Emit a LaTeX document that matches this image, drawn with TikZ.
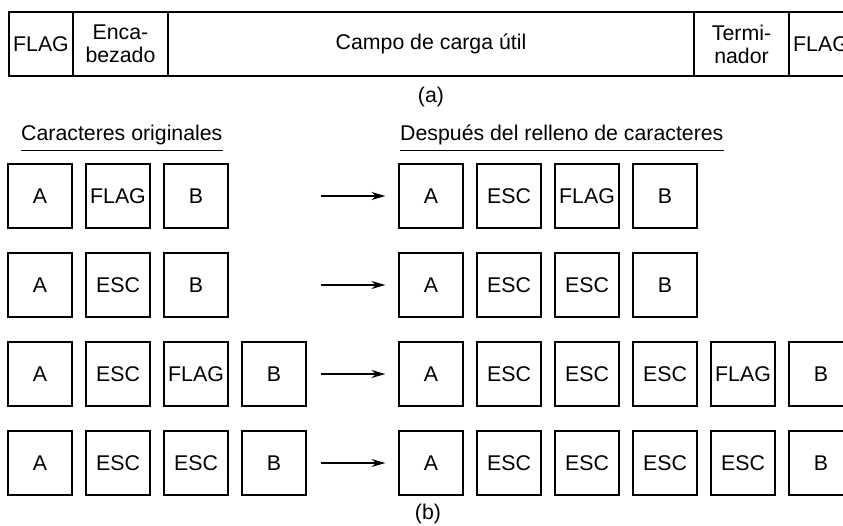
\documentclass[tikz,border=0pt]{standalone}
\usepackage{fontspec}
\setmainfont{Liberation Sans}
\usepackage{tikz}
\usetikzlibrary{arrows.meta,positioning,calc}

\begin{document}
\begin{tikzpicture}[
    x=1pt, y=-1pt,
    font=\fontsize{21.3}{23}\selectfont,
    cell/.style={rectangle, draw, line width=1.1pt, minimum height=64pt, inner sep=0pt, align=center},
    charbox/.style={rectangle, draw, line width=1.1pt, minimum width=64pt, minimum height=64pt, inner sep=0pt},
    heading/.style={anchor=base west, inner sep=0pt},
    rule/.style={line width=0.8pt},
    arrow/.style={-{Stealth[length=14pt, width=8pt]}, line width=1.3pt, shorten >=13pt},
    caption/.style={inner sep=0pt}
]

\clip (0,0) rectangle (843,526);

% Frame (a)
\node[cell, minimum width=64pt] (flag_l) at (41,44) {FLAG};
\node[cell, minimum width=95pt] (header) at (120.5,44) {Enca-\\bezado};
\node[cell, minimum width=526pt] (payload) at (431,44) {Campo de carga útil};
\node[cell, minimum width=95pt] (trailer) at (741.5,44) {Termi-\\nador};
\node[cell, minimum width=64pt] (flag_r) at (821,44) {FLAG};

\node[caption] (cap_a) at (431,97) {(a)};

% Headings
\node[heading] (orig) at (21,141) {Caracteres originales};
\node[heading] (stuffed) at (400,141) {Después del relleno de caracteres};
\draw[rule] ([yshift=-9pt]orig.base west) -- ([yshift=-9pt]orig.base east);
\draw[rule] ([yshift=-9pt]stuffed.base west) -- ([yshift=-9pt]stuffed.base east);

% Row 1
\node[charbox] (o1a) at (40,196) {A};
\node[charbox] (o1b) at (118,196) {FLAG};
\node[charbox] (o1c) at (196,196) {B};
\node[charbox] (s1a) at (431,196) {A};
\node[charbox] (s1b) at (509,196) {ESC};
\node[charbox] (s1c) at (587,196) {FLAG};
\node[charbox] (s1d) at (665,196) {B};

% Row 2
\node[charbox] (o2a) at (40,285) {A};
\node[charbox] (o2b) at (118,285) {ESC};
\node[charbox] (o2c) at (196,285) {B};
\node[charbox] (s2a) at (431,285) {A};
\node[charbox] (s2b) at (509,285) {ESC};
\node[charbox] (s2c) at (587,285) {ESC};
\node[charbox] (s2d) at (665,285) {B};

% Row 3
\node[charbox] (o3a) at (40,374) {A};
\node[charbox] (o3b) at (118,374) {ESC};
\node[charbox] (o3c) at (196,374) {FLAG};
\node[charbox] (o3d) at (274,374) {B};
\node[charbox] (s3a) at (431,374) {A};
\node[charbox] (s3b) at (509,374) {ESC};
\node[charbox] (s3c) at (587,374) {ESC};
\node[charbox] (s3d) at (665,374) {ESC};
\node[charbox] (s3e) at (743,374) {FLAG};
\node[charbox] (s3f) at (821,374) {B};

% Row 4
\node[charbox] (o4a) at (40,463) {A};
\node[charbox] (o4b) at (118,463) {ESC};
\node[charbox] (o4c) at (196,463) {ESC};
\node[charbox] (o4d) at (274,463) {B};
\node[charbox] (s4a) at (431,463) {A};
\node[charbox] (s4b) at (509,463) {ESC};
\node[charbox] (s4c) at (587,463) {ESC};
\node[charbox] (s4d) at (665,463) {ESC};
\node[charbox] (s4e) at (743,463) {ESC};
\node[charbox] (s4f) at (821,463) {B};

% Arrows
\coordinate (t1) at (321,196);
\coordinate (t2) at (321,285);
\coordinate (t3) at (321,374);
\coordinate (t4) at (321,463);
\draw[arrow] (t1) -- (s1a.west);
\draw[arrow] (t2) -- (s2a.west);
\draw[arrow] (t3) -- (s3a.west);
\draw[arrow] (t4) -- (s4a.west);

\node[caption] (cap_b) at (428,514) {(b)};

\end{tikzpicture}
\end{document}
